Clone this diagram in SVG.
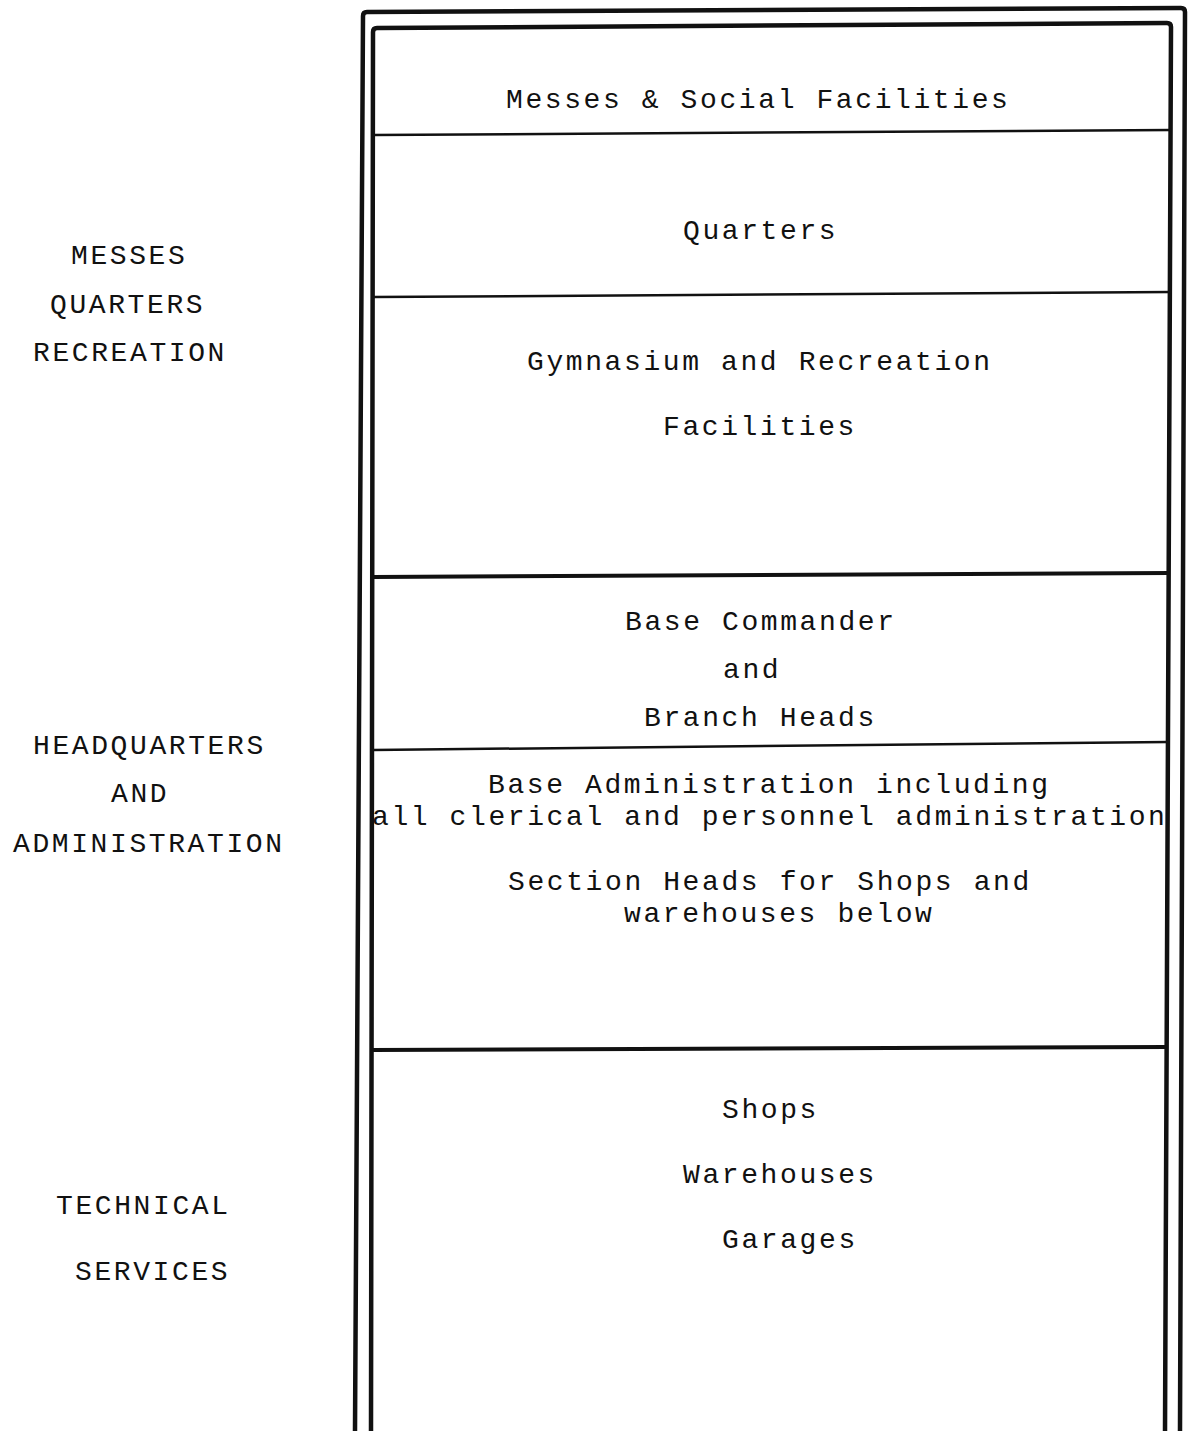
<svg xmlns="http://www.w3.org/2000/svg" width="1189" height="1431" viewBox="0 0 1189 1431">
<style>
text{font-family:"Liberation Mono","Courier New",monospace;font-size:28px;letter-spacing:2.6px;fill:#111}
.frame{fill:none;stroke:#111;stroke-width:4.5;stroke-linejoin:round}
.thin{stroke:#111;stroke-width:2.5;fill:none}
.thick{stroke:#111;stroke-width:4;fill:none}
</style>
<rect width="1189" height="1431" fill="#fff"/>
<g id="frame">
<path class="frame" d="M355,1431 L363,16 Q363,12 367,12 L1181,8 Q1185,8 1185,12 L1180,1431"/>
<path class="frame" d="M371,1431 L373,32 Q373,28 377,28 L1167,23 Q1171,23 1171,27 L1165,1431"/>
</g>
<g id="dividers">
<line class="thin" x1="373" y1="135" x2="1171" y2="130"/>
<line class="thin" x1="373" y1="297" x2="1171" y2="292"/>
<line class="thick" x1="373" y1="577" x2="1170" y2="573"/>
<line class="thin" x1="373" y1="750" x2="1168" y2="742"/>
<line class="thick" x1="372" y1="1050" x2="1167" y2="1047"/>
</g>
<g id="connectors"></g>
<g id="messes-social">
<text x="506" y="108">Messes &amp; Social Facilities</text>
</g>
<g id="quarters">
<text x="683" y="239">Quarters</text>
</g>
<g id="gymnasium">
<text x="527" y="370">Gymnasium and Recreation</text>
<text x="663" y="435">Facilities</text>
</g>
<g id="base-commander">
<text x="625" y="630">Base Commander</text>
<text x="723" y="678">and</text>
<text x="644" y="726">Branch Heads</text>
</g>
<g id="base-administration">
<text x="488" y="793">Base Administration including</text>
<text x="372" y="825">all clerical and personnel administration</text>
<text x="508" y="890">Section Heads for Shops and</text>
<text x="624" y="922">warehouses below</text>
</g>
<g id="technical">
<text x="722" y="1118">Shops</text>
<text x="683" y="1183">Warehouses</text>
<text x="722" y="1248">Garages</text>
</g>
<g id="label-messes">
<text x="71" y="264">MESSES</text>
<text x="50" y="313">QUARTERS</text>
<text x="33" y="361">RECREATION</text>
</g>
<g id="label-hq">
<text x="33" y="754">HEADQUARTERS</text>
<text x="111" y="802">AND</text>
<text x="13" y="852">ADMINISTRATION</text>
</g>
<g id="label-technical">
<text x="56" y="1214">TECHNICAL</text>
<text x="75" y="1280">SERVICES</text>
</g>
</svg>
